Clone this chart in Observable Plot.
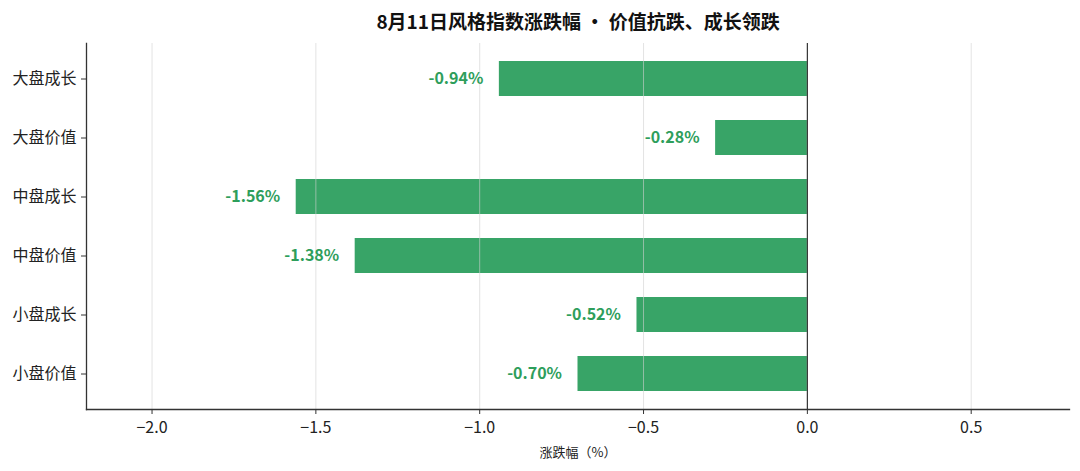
<!DOCTYPE html>
<html>
<head>
<meta charset="utf-8">
<script src="https://cdn.jsdelivr.net/npm/d3@7"></script>
<script src="https://cdn.jsdelivr.net/npm/@observablehq/plot@0.6"></script>
<style>
  html, body { margin: 0; padding: 0; background: #fff; }
  #chart { width: 1080px; height: 471px; }
</style>
</head>
<body>
<div id="chart"></div>
<script>
const categories = ["大盘成长", "大盘价值", "中盘成长", "中盘价值", "小盘成长", "小盘价值"];
const values = [-0.94, -0.28, -1.56, -1.38, -0.52, -0.70];
const xTicks = [-2.0, -1.5, -1.0, -0.5, 0.0, 0.5];
const title = "8月11日风格指数涨跌幅 • 价值抗跌、成长领跌";
const xLabel = "涨跌幅（%）";

const data = categories.map((name, i) => ({name, value: values[i]}));
const font = "'Noto Sans CJK SC', 'Noto Sans', sans-serif";

const chart = Plot.plot({
  width: 1080,
  height: 471,
  marginTop: 43,
  marginBottom: 62,
  marginLeft: 86,
  marginRight: 11,
  style: {fontFamily: font, fontSize: "15px", color: "#222", background: "#fff"},
  x: {domain: [-2.2, 0.8]},
  y: {domain: categories, paddingInner: 0.4, paddingOuter: 0.285},
  marks: [
    Plot.barX(data, {x1: 0, x2: "value", y: "name", fill: "#38a467"}),
    Plot.gridX(xTicks.filter(t => t !== 0), {stroke: "#d0d0d0", strokeOpacity: 0.6, strokeWidth: 1}),
    Plot.ruleX([0], {stroke: "#333", strokeWidth: 1.2}),
    Plot.text(data, {x: "value", y: "name", text: d => d.value.toFixed(2) + "%", textAnchor: "end", dx: -16,
      fill: "#2e9e5b", fontWeight: "bold", fontSize: 16}),
    Plot.frame({anchor: "left", stroke: "#333", strokeWidth: 1.3}),
    Plot.frame({anchor: "bottom", stroke: "#333", strokeWidth: 1.3}),
    Plot.axisX({ticks: xTicks, tickFormat: d3.format(".1f"), tickSize: 5, tickPadding: 7, fontSize: 16,
      stroke: "#333", label: null, color: "#222"}),
    Plot.text([xLabel], {frameAnchor: "bottom", lineAnchor: "middle", dy: 43, text: d => d, fontSize: 13, fill: "#222"}),
    Plot.axisY({tickSize: 5, tickPadding: 5, fontSize: 16, stroke: "#333", label: null}),
    Plot.text([title], {frameAnchor: "top", lineAnchor: "middle", dy: -21, text: d => d, fontWeight: "bold", fontSize: 19, fill: "#111"})
  ]
});
document.getElementById("chart").appendChild(chart);
</script>
</body>
</html>
